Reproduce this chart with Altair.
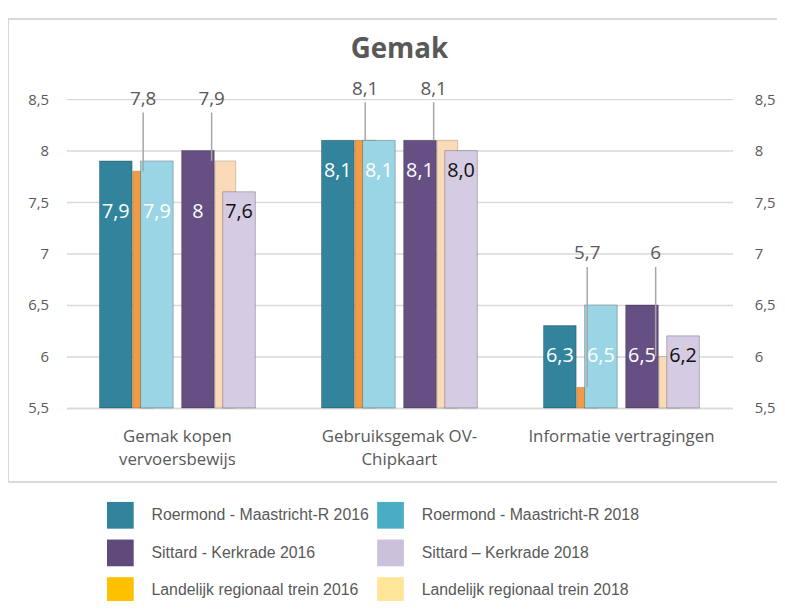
import altair as alt
import pandas as pd

categories = ["Gemak kopen\nvervoersbewijs", "Gebruiksgemak OV-\nChipkaart", "Informatie vertragingen"]

R16 = "Roermond - Maastricht-R 2016"
R18 = "Roermond - Maastricht-R 2018"
S16 = "Sittard - Kerkrade 2016"
S18 = "Sittard – Kerkrade 2018"
L16 = "Landelijk regionaal trein 2016"
L18 = "Landelijk regionaal trein 2018"

legend_order = [R16, R18, S16, S18, L16, L18]
main_series = [R16, R18, S16, S18]
land_series = [L16, L18]

vals_r16 = [7.9, 8.1, 6.3]
vals_r18 = [7.9, 8.1, 6.5]
vals_s16 = [8.0, 8.1, 6.5]
vals_s18 = [7.6, 8.0, 6.2]
vals_l16 = [7.8, 8.1, 5.7]
vals_l18 = [7.9, 8.1, 6.0]

labels_r16 = ["7,9", "8,1", "6,3"]
labels_r18 = ["7,9", "8,1", "6,5"]
labels_s16 = ["8", "8,1", "6,5"]
labels_s18 = ["7,6", "8,0", "6,2"]
labels_l16 = ["7,8", "8,1", "5,7"]
labels_l18 = ["7,9", "8,1", "6"]

bar_colors = ["#31849B", "#9AD5E6", "#654F83", "#D5CBE3", "#F39A45", "#FBDAB8"]
legend_colors = ["#31849B", "#4BACC6", "#604A7B", "#CCC1DA", "#FFC000", "#FFE699"]

values = {R16: vals_r16, R18: vals_r18, S16: vals_s16, S18: vals_s18, L16: vals_l16, L18: vals_l18}
labels = {R16: labels_r16, R18: labels_r18, S16: labels_s16, S18: labels_s18, L16: labels_l16, L18: labels_l18}

rows = []
for s in legend_order:
    for c, v, t in zip(categories, values[s], labels[s]):
        rows.append({"category": c, "series": s, "value": v, "label": t})
df = pd.DataFrame(rows)
main_df = df[df.series.isin(main_series)].copy()
gmax = main_df.groupby("category")["value"].max()
gmin = main_df.groupby("category")["value"].min()
df["gmax"] = df["category"].map(gmax)
df["gmin"] = df["category"].map(gmin)
df["inner_y"] = df["gmin"] - 0.2
df["lead_y"] = df["gmax"] + 0.5
df["lead_top"] = df["lead_y"] - 0.13

main_df = df[df.series.isin(main_series)]
land_df = df[df.series.isin(land_series)]

slots = ["s0", R16, "s2", L16, R18, "s5", "s6", S16, "s8", L18, S18, "s11"]

FONT = "Open Sans"
GRAY = "#595959"
BASE = 5.5

x_enc = alt.X("category:N", sort=categories, title=None,
              scale=alt.Scale(domain=categories, paddingInner=0.26, paddingOuter=0.13))
xo_enc = alt.XOffset("slot:N", scale=alt.Scale(domain=slots, paddingInner=0, paddingOuter=0))
bar_color = alt.Color("series:N", scale=alt.Scale(domain=legend_order, range=bar_colors), legend=None)
yscale = alt.Scale(domain=[5.5, 8.5], zero=False, nice=False)
tick_vals = [5.5, 6, 6.5, 7, 7.5, 8, 8.5]
ylabel_expr = "replace(format(datum.value, '~g'), '.', ',')"

land_bars = alt.Chart(land_df).transform_calculate(slot="datum.series").mark_bar(
    width=21, stroke="#000000", strokeOpacity=0.18, strokeWidth=1
).encode(
    x=x_enc, xOffset=xo_enc,
    y=alt.Y("value:Q", scale=yscale, axis=None),
    y2=alt.Y2(datum=BASE),
    color=bar_color,
)

main_bars = alt.Chart(main_df).transform_calculate(slot="datum.series").mark_bar(
    width=33, stroke="#000000", strokeOpacity=0.25, strokeWidth=1
).encode(
    x=x_enc, xOffset=xo_enc,
    y=alt.Y("value:Q", scale=yscale, title=None,
            axis=alt.Axis(orient="left", values=tick_vals, grid=True, labelAlign="right",
                          labelExpr=ylabel_expr, labelPadding=18)),
    y2=alt.Y2(datum=BASE),
    color=bar_color,
)

inner_text = alt.Chart(main_df).transform_calculate(slot="datum.series").mark_text(
    font=FONT, fontSize=20, baseline="middle", align="center"
).encode(
    x=x_enc, xOffset=xo_enc,
    y=alt.Y("inner_y:Q", scale=yscale, axis=None),
    text="label:N",
    color=alt.condition(alt.datum.series == S18, alt.value("#111111"), alt.value("#FFFFFF")),
)

lead_rules = alt.Chart(land_df).transform_calculate(
    slot=f"datum.series == '{L18}' ? 's8' : datum.series"
).mark_rule(color="#A6A6A6", strokeWidth=1.5).encode(
    x=x_enc, xOffset=xo_enc,
    y=alt.Y("lead_top:Q", scale=yscale, title=None,
            axis=alt.Axis(orient="right", values=tick_vals, grid=False, labelAlign="left",
                          labelExpr=ylabel_expr, labelPadding=22)),
    y2="value:Q",
)

lead_text = alt.Chart(land_df).transform_calculate(
    slot=f"datum.series == '{L18}' ? 's8' : datum.series"
).mark_text(font=FONT, fontSize=19, color=GRAY, baseline="middle", align="center").encode(
    x=x_enc, xOffset=xo_enc,
    y=alt.Y("lead_y:Q", scale=yscale, axis=None),
    text="label:N",
)

legend_layer = alt.Chart(df).transform_filter("false").mark_square().encode(
    x=x_enc,
    y=alt.Y("value:Q", scale=yscale, axis=None),
    color=alt.Color("series:N", scale=alt.Scale(domain=legend_order, range=legend_colors),
                    legend=alt.Legend(title=None, orient="none", legendX=41, legendY=407,
                                      direction="horizontal", columns=2,
                                      symbolType="square", symbolSize=729,
                                      symbolOpacity=1, symbolStrokeWidth=0,
                                      labelFont="Liberation Sans", labelFontSize=16,
                                      labelColor=GRAY, labelOffset=18, columnPadding=8,
                                      rowPadding=11, labelLimit=400)),
)

frame = alt.Chart(df).mark_rect(fill=None, stroke="#D9D9D9", strokeWidth=1.5).encode(
    x=alt.value(-59), x2=alt.value(740), y=alt.value(-81), y2=alt.value(387)
)

chart = alt.layer(
    frame, land_bars, main_bars, inner_text, lead_rules, lead_text, legend_layer
).resolve_scale(color="independent").resolve_axis(y="independent").properties(
    width=673, height=312,
    title=alt.TitleParams("Gemak", font=FONT, fontSize=28, fontWeight="bold", color=GRAY,
                          anchor="middle", offset=0, dy=46),
    autosize=alt.AutoSizeParams(type="none"),
    padding={"left": 59, "top": 89, "right": 45, "bottom": 192},
).configure_view(stroke=None).configure_axisX(
    labelExpr="split(datum.label, '\\n')", labelFont=FONT, labelFontSize=17, labelColor=GRAY,
    labelLineHeight=23, labelPadding=21, ticks=False, domainColor="#D9D9D9", domainWidth=1.5,
    labelAngle=0, grid=False, labelLimit=400,
).configure_axisY(
    labelFont=FONT, labelFontSize=15, labelColor=GRAY,
    ticks=False, domain=False, gridColor="#D9D9D9", gridWidth=1.5,
)

chart.save("out.html", embed_options={"renderer": "svg", "actions": False})
